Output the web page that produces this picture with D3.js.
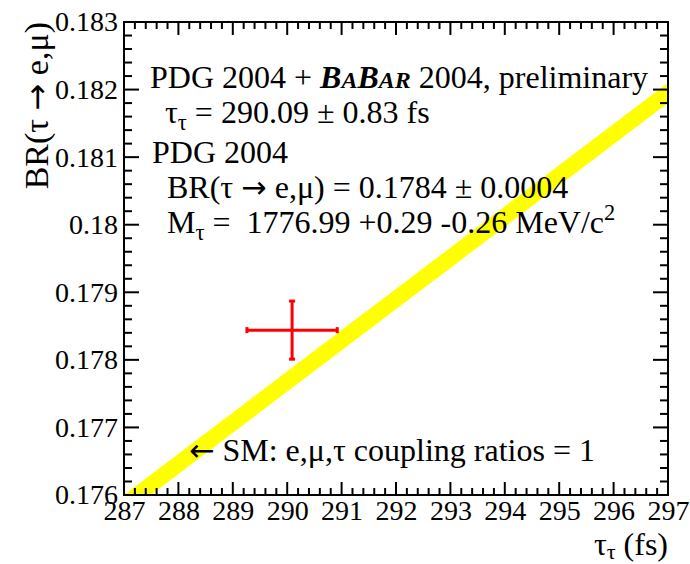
<!DOCTYPE html>
<html>
<head>
  <meta charset="UTF-8">
  <title>BR vs tau lifetime</title>
  <style>
    body { margin: 0; background: #fff; }
    svg text { font-family: "Liberation Serif", "Times New Roman", serif; fill: #000; white-space: pre; }
    .arr { font-family: "DejaVu Sans", sans-serif; }
  </style>
</head>
<body>
  <script src="https://cdn.jsdelivr.net/npm/d3@7"></script>
  <script>
    // axis ranges and tick labels
    const xDomain = [287, 297];
    const yDomain = [0.176, 0.183];
    const xTicks = [287, 288, 289, 290, 291, 292, 293, 294, 295, 296, 297];
    const yTicks = [0.176, 0.177, 0.178, 0.179, 0.18, 0.181, 0.182, 0.183];

    // SM band (lepton universality prediction), endpoints
    const smTau = [287, 297];
    const smLow = [0.17570, 0.18180];
    const smHigh = [0.17600, 0.18210];

    // measured point
    const pointTau = [290.09];
    const pointBR = [0.17844];
    const pointTauErr = [0.83];
    const pointBRErr = [0.00043];

    const W = 690, H = 564;
    const m = {left: 124, right: 22, top: 22, bottom: 69};
    const pw = W - m.left - m.right, ph = H - m.top - m.bottom;

    const svg = d3.select("body").append("svg").attr("width", W).attr("height", H);
    const x = d3.scaleLinear().domain(xDomain).range([m.left, m.left + pw]);
    const y = d3.scaleLinear().domain(yDomain).range([m.top + ph, m.top]);

    svg.append("defs").append("clipPath").attr("id", "clip")
      .append("rect").attr("x", m.left).attr("y", m.top).attr("width", pw).attr("height", ph);

    // yellow band
    const band = smTau.map((t, i) => ({t, lo: smLow[i], hi: smHigh[i]}));
    svg.append("path").datum(band)
      .attr("clip-path", "url(#clip)")
      .attr("fill", "#ffff00")
      .attr("d", d3.area().x(d => x(d.t)).y0(d => y(d.lo)).y1(d => y(d.hi)));

    // ticks (ROOT style, inside, on all four sides)
    const tk = svg.append("g").attr("stroke", "#000").attr("stroke-width", 2);
    const xMinor = d3.range(xDomain[0] * 5, xDomain[1] * 5 + 1).map(v => v / 5);
    const yMinor = d3.range(0, 36).map(i => yDomain[0] + i * 0.0002);
    xMinor.forEach(v => {
      const major = Math.abs(v - Math.round(v)) < 1e-6;
      const len = major ? 13 : 7;
      tk.append("line").attr("x1", x(v)).attr("x2", x(v)).attr("y1", y(yDomain[0])).attr("y2", y(yDomain[0]) - len);
      tk.append("line").attr("x1", x(v)).attr("x2", x(v)).attr("y1", y(yDomain[1])).attr("y2", y(yDomain[1]) + len);
    });
    yMinor.forEach((v, i) => {
      const len = i % 5 === 0 ? 15 : 8;
      tk.append("line").attr("y1", y(v)).attr("y2", y(v)).attr("x1", x(xDomain[0])).attr("x2", x(xDomain[0]) + len);
      tk.append("line").attr("y1", y(v)).attr("y2", y(v)).attr("x1", x(xDomain[1])).attr("x2", x(xDomain[1]) - len);
    });

    // frame
    svg.append("rect").attr("x", m.left).attr("y", m.top).attr("width", pw).attr("height", ph)
      .attr("fill", "none").attr("stroke", "#000").attr("stroke-width", 2);

    // axes labels via d3 axis (no lines, only text)
    const xAxis = svg.append("g").attr("transform", `translate(0,${m.top + ph})`)
      .call(d3.axisBottom(x).tickValues(xTicks).tickFormat(d3.format("d")).tickSize(0).tickPadding(25));
    const yAxis = svg.append("g").attr("transform", `translate(${m.left},0)`)
      .call(d3.axisLeft(y).tickValues(yTicks).tickFormat(d => +d.toFixed(3) + "").tickSize(0).tickPadding(6));
    [xAxis, yAxis].forEach(a => {
      a.select(".domain").remove();
      a.selectAll("text").attr("font-size", 28).attr("fill", "#000");
    });
    xAxis.selectAll("text").attr("dy", 0);

    // data point with error bars
    const pg = svg.append("g").attr("stroke", "#ff0000").attr("stroke-width", 3);
    pointTau.forEach((t, i) => {
      const cx = x(t), cy = y(pointBR[i]);
      const x0 = x(t - pointTauErr[i]), x1 = x(t + pointTauErr[i]);
      const y0 = y(pointBR[i] - pointBRErr[i]), y1 = y(pointBR[i] + pointBRErr[i]);
      pg.append("line").attr("x1", x0).attr("x2", x1).attr("y1", cy).attr("y2", cy);
      pg.append("line").attr("x1", cx).attr("x2", cx).attr("y1", y0).attr("y2", y1);
      pg.append("line").attr("x1", x0).attr("x2", x0).attr("y1", cy - 3).attr("y2", cy + 3);
      pg.append("line").attr("x1", x1).attr("x2", x1).attr("y1", cy - 3).attr("y2", cy + 3);
      pg.append("line").attr("x1", cx - 3).attr("x2", cx + 3).attr("y1", y0).attr("y2", y0);
      pg.append("line").attr("x1", cx - 3).attr("x2", cx + 3).attr("y1", y1).attr("y2", y1);
    });

    const fs = 32;
    // annotation text
    const t1 = svg.append("text").attr("x", 150).attr("y", 88).attr("font-size", fs);
    t1.append("tspan").text("PDG 2004 + ");
    const bab = t1.append("tspan").attr("font-weight", "bold").attr("font-style", "italic");
    bab.append("tspan").text("B");
    bab.append("tspan").attr("font-size", fs * 0.75).text("A");
    bab.append("tspan").text("B");
    bab.append("tspan").attr("font-size", fs * 0.75).text("AR");
    t1.append("tspan").text(" 2004, preliminary");

    const t2 = svg.append("text").attr("x", 165).attr("y", 123).attr("font-size", fs);
    t2.append("tspan").text("τ");
    t2.append("tspan").attr("font-size", fs * 0.7).attr("dy", 7).text("τ");
    t2.append("tspan").attr("dy", -7).text(" = 290.09 ± 0.83 fs");

    svg.append("text").attr("x", 152).attr("y", 163).attr("font-size", fs).text("PDG 2004");

    const t4 = svg.append("text").attr("x", 167).attr("y", 198).attr("font-size", fs);
    t4.append("tspan").text("BR(τ ");
    t4.append("tspan").attr("class", "arr").attr("font-size", fs * 0.95).text("→");
    t4.append("tspan").text(" e,μ) = 0.1784 ± 0.0004");

    const t5 = svg.append("text").attr("x", 167).attr("y", 233).attr("font-size", fs);
    t5.append("tspan").text("M");
    t5.append("tspan").attr("font-size", fs * 0.7).attr("dy", 7).text("τ");
    t5.append("tspan").attr("dy", -7).text(" =  1776.99 +0.29 -0.26 MeV/c");
    t5.append("tspan").attr("font-size", fs * 0.7).attr("dy", -13).text("2");

    const t6 = svg.append("text").attr("x", 189).attr("y", 461).attr("font-size", fs);
    t6.append("tspan").attr("class", "arr").attr("font-size", fs * 0.95).text("←");
    t6.append("tspan").text(" SM: e,μ,τ coupling ratios = 1");

    // axis titles
    const xt = svg.append("text").attr("x", 668).attr("y", 555).attr("text-anchor", "end").attr("font-size", 32);
    xt.append("tspan").text("τ");
    xt.append("tspan").attr("font-size", 22).attr("dy", 4).text("τ");
    xt.append("tspan").attr("dy", -4).text(" (fs)");

    const yt = svg.append("text").attr("transform", "translate(48,22) rotate(-90)")
      .attr("text-anchor", "end").attr("font-size", 34);
    yt.append("tspan").text("BR(τ ");
    yt.append("tspan").attr("class", "arr").attr("font-size", 32).text("→");
    yt.append("tspan").text(" e,μ)");
  </script>
</body>
</html>
